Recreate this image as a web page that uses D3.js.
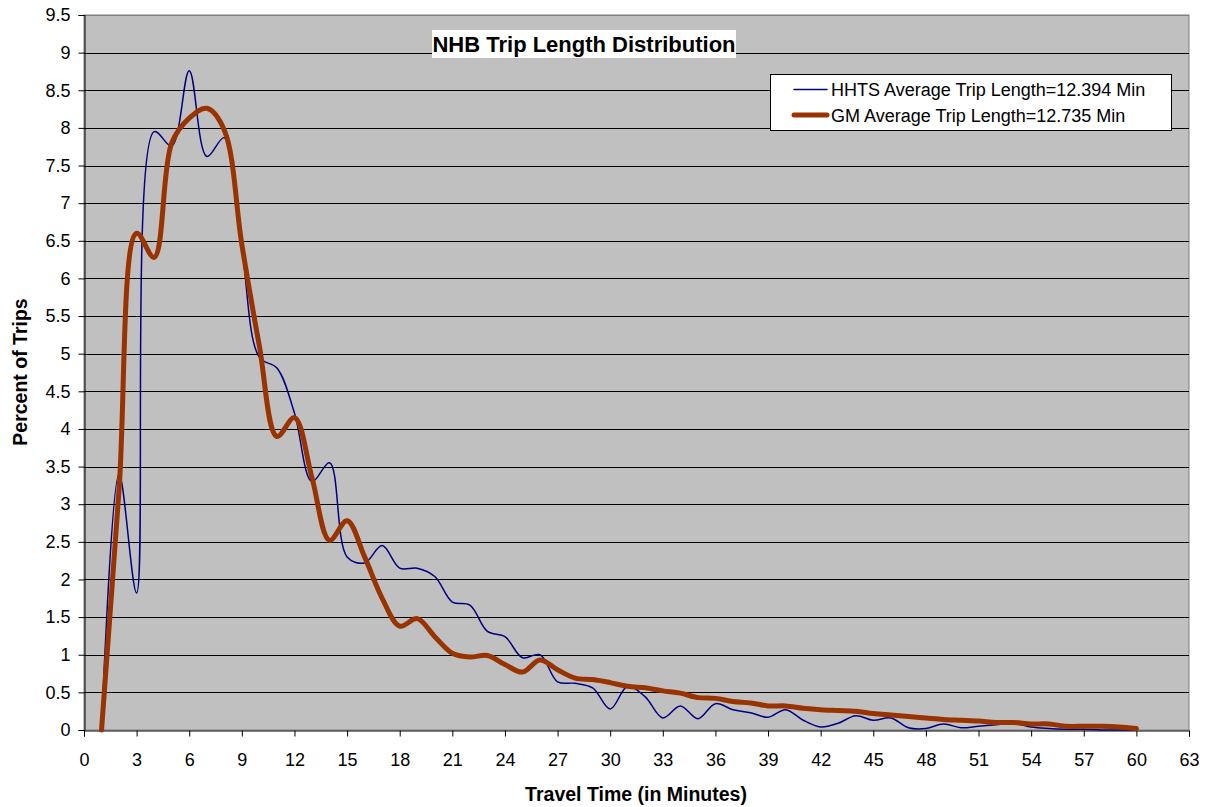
<!DOCTYPE html>
<html>
<head>
<meta charset="utf-8">
<script src="https://cdn.jsdelivr.net/npm/d3@7"></script>
<style>
  body { margin: 0; background: #fff; }
  text { font-family: "Liberation Sans", Arial, sans-serif; }
</style>
</head>
<body>
<svg id="chart" width="1208" height="807"></svg>
<script>
// minutes 1..60
const minutes = d3.range(1, 61);
const hhts = [
  0, 3.4, 1.82, 7.95, 7.76, 8.76, 7.62, 7.87, 6.4, 4.95,
  4.81, 4.21, 3.3, 3.55, 2.3, 2.22, 2.45, 2.15, 2.15, 2.04,
  1.7, 1.66, 1.31, 1.24, 0.96, 1.0, 0.64, 0.62, 0.56, 0.28,
  0.58, 0.44, 0.16, 0.32, 0.15, 0.35, 0.27, 0.23, 0.17, 0.27,
  0.13, 0.04, 0.09, 0.19, 0.13, 0.16, 0.03, 0.02, 0.08, 0.03,
  0.05, 0.07, 0.09, 0.04, 0.02, 0.01, 0.01, 0, 0, 0
];
const gm = [
  0, 3.2, 6.6, 6.28, 7.8, 8.13, 8.26, 7.97, 6.45, 5.1,
  3.9, 4.15, 3.35, 2.52, 2.78, 2.3, 1.75, 1.38, 1.48, 1.24,
  1.02, 0.97, 0.99, 0.87, 0.77, 0.93, 0.8, 0.69, 0.67, 0.63,
  0.58, 0.56, 0.52, 0.49, 0.43, 0.42, 0.38, 0.36, 0.32, 0.32,
  0.29, 0.27, 0.26, 0.25, 0.22, 0.2, 0.18, 0.16, 0.14, 0.13,
  0.12, 0.1, 0.1, 0.08, 0.08, 0.05, 0.05, 0.05, 0.04, 0.02
];
const xTicks = d3.range(0, 64, 3);
const yTicks = d3.range(0, 9.51, 0.5);
const seriesNames = [
  "HHTS Average Trip Length=12.394 Min",
  "GM Average Trip Length=12.735 Min"
];

const plotLeft = 84, plotRight = 1189, plotTop = 15, plotBottom = 730;
const svg = d3.select("#chart");

const x = d3.scaleLinear().domain([0, 63]).range([plotLeft, plotRight]);
const y = d3.scaleLinear().domain([0, 9.5]).range([plotBottom, plotTop]);

// plot area
svg.append("rect")
  .attr("x", plotLeft).attr("y", plotTop)
  .attr("width", plotRight - plotLeft).attr("height", plotBottom - plotTop)
  .attr("fill", "#c0c0c0")
  .attr("stroke", "#808080");

// gridlines
svg.append("g")
  .selectAll("line")
  .data(yTicks.filter((d) => d > 0))
  .join("line")
  .attr("x1", plotLeft).attr("x2", plotRight)
  .attr("y1", (d) => Math.round(y(d)) + 0.5)
  .attr("y2", (d) => Math.round(y(d)) + 0.5)
  .attr("stroke", (d) => (d === 9.5 ? "#808080" : "#000"))
  .attr("stroke-width", 1);

// axes
const yAxis = svg.append("g")
  .attr("transform", `translate(${plotLeft + 0.5},0)`)
  .call(d3.axisLeft(y).tickValues(yTicks).tickSize(6).tickPadding(8)
    .tickFormat((d) => d3.format("~g")(d)));
const xAxis = svg.append("g")
  .attr("transform", `translate(0,${plotBottom + 0.5})`)
  .call(d3.axisBottom(x).tickValues(xTicks).tickSize(6).tickPadding(17));

[yAxis, xAxis].forEach((g) => {
  g.select(".domain").attr("stroke", "#000");
  g.selectAll(".tick line").attr("stroke", "#000");
  g.selectAll(".tick text")
    .attr("fill", "#000")
    .style("font-size", "18px")
    .style("font-family", "Liberation Sans, Arial, sans-serif");
});

// series
const line = d3.line()
  .x((d) => x(d[0]))
  .y((d) => y(d[1]))
  .curve(d3.curveCatmullRom.alpha(0.5));

svg.append("path")
  .datum(minutes.map((m, i) => [m, hhts[i]]))
  .attr("d", line)
  .attr("fill", "none")
  .attr("stroke", "#000080")
  .attr("stroke-width", 1.5);

svg.append("path")
  .datum(minutes.map((m, i) => [m, gm[i]]))
  .attr("d", line)
  .attr("fill", "none")
  .attr("stroke", "#993300")
  .attr("stroke-width", 5)
  .attr("stroke-linejoin", "round")
  .attr("stroke-linecap", "round");

// title
svg.append("rect")
  .attr("x", 432).attr("y", 30)
  .attr("width", 304).attr("height", 28)
  .attr("fill", "#fff");
svg.append("text")
  .attr("x", 584).attr("y", 51.5)
  .attr("text-anchor", "middle")
  .style("font-size", "22px")
  .style("font-weight", "bold")
  .text("NHB Trip Length Distribution");

// legend
const legend = svg.append("g");
legend.append("rect")
  .attr("x", 770.5).attr("y", 74.5)
  .attr("width", 401).attr("height", 56)
  .attr("fill", "#fff")
  .attr("stroke", "#000");
const legendStyles = [
  { color: "#000080", width: 1.5 },
  { color: "#993300", width: 5 },
];
seriesNames.forEach((name, i) => {
  const ly = 89.5 + i * 25.5;
  legend.append("line")
    .attr("x1", 794).attr("x2", 827)
    .attr("y1", ly).attr("y2", ly)
    .attr("stroke", legendStyles[i].color)
    .attr("stroke-width", legendStyles[i].width)
    .attr("stroke-linecap", "round");
  legend.append("text")
    .attr("x", 831).attr("y", ly + 6.5)
    .style("font-size", "18px")
    .text(name);
});

// axis titles
svg.append("text")
  .attr("x", 636).attr("y", 801)
  .attr("text-anchor", "middle")
  .style("font-size", "19.5px")
  .style("font-weight", "bold")
  .text("Travel Time (in Minutes)");
svg.append("text")
  .attr("transform", "translate(27,372) rotate(-90)")
  .attr("text-anchor", "middle")
  .style("font-size", "19.5px")
  .style("font-weight", "bold")
  .text("Percent of Trips");
</script>
</body>
</html>
